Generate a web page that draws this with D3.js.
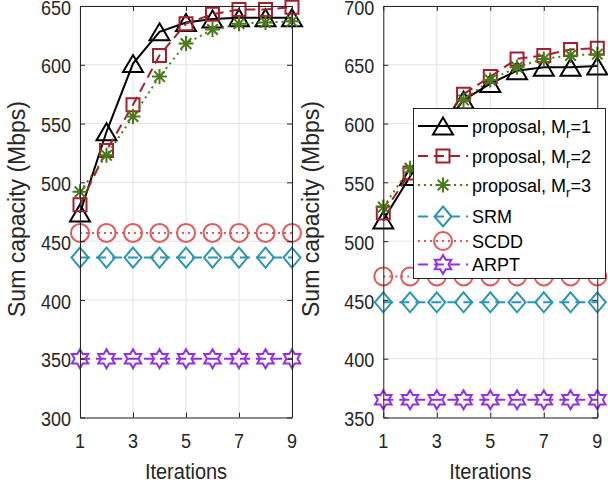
<!DOCTYPE html>
<html>
<head>
<meta charset="utf-8">
<script src="https://cdn.jsdelivr.net/npm/d3@7"></script>
<style>
  html, body { margin: 0; padding: 0; background: #fff; }
  svg { display: block; font-family: "Liberation Sans", Arial, Helvetica, sans-serif; }
</style>
</head>
<body>
<div id="chart"></div>
<script>
// Iteration index shared by both panels
const iterations = [1, 2, 3, 4, 5, 6, 7, 8, 9];
const xTicks = [1, 3, 5, 7, 9];

// Left panel: sum capacity (Mbps)
const leftMr1  = [474, 543, 601, 628, 636, 639, 640, 640, 640];
const leftMr2  = [481, 527, 566, 608, 635, 643, 647, 647, 649];
const leftMr3  = [492, 523, 556, 590, 618, 630, 635, 636, 637];
const leftSRM  = [436, 436, 436, 436, 436, 436, 436, 436, 436];
const leftSCDD = [457, 457, 457, 457, 457, 457, 457, 457, 457];
const leftARPT = [350, 350, 350, 350, 350, 350, 350, 350, 350];
const leftYTicks = [300, 350, 400, 450, 500, 550, 600, 650];

// Right panel: sum capacity (Mbps)
const rightMr1  = [518, 555, 590, 620, 634, 645, 648, 648, 649];
const rightMr2  = [524, 558, 595, 625, 640, 655, 658, 663, 664];
const rightMr3  = [529, 562, 597, 620, 637, 648, 655, 658, 659];
const rightSRM  = [448, 448, 448, 448, 448, 448, 448, 448, 448];
const rightSCDD = [470, 470, 470, 470, 470, 470, 470, 470, 470];
const rightARPT = [365, 365, 365, 365, 365, 365, 365, 365, 365];
const rightYTicks = [350, 400, 450, 500, 550, 600, 650, 700];

// Series styling (legend order)
const seriesNames = ["proposal, M|r|=1", "proposal, M|r|=2", "proposal, M|r|=3", "SRM", "SCDD", "ARPT"];
const seriesStyle = [
  { color: "#000000", dash: null,   marker: "triangle" },
  { color: "#A2212F", dash: "10,6", marker: "square" },
  { color: "#4B7A1A", dash: "2,4",  marker: "asterisk" },
  { color: "#2B95B5", dash: "10,6", marker: "diamond" },
  { color: "#E2595C", dash: "2,4",  marker: "circle" },
  { color: "#9330E6", dash: "10,6", marker: "hexagram" }
];

const W = 608, H = 486;
const svg = d3.select("#chart").append("svg").attr("width", W).attr("height", H);

const axisColor = "#262626";
const gridColor = "#e3e3e3";

function markerPath(type) {
  const p = d3.path();
  if (type === "triangle") {
    p.moveTo(0, -8.5); p.lineTo(10, 8.5); p.lineTo(-10, 8.5); p.closePath();
  } else if (type === "square") {
    p.rect(-6.5, -6.5, 13, 13);
  } else if (type === "diamond") {
    p.moveTo(0, -10); p.lineTo(8.5, 0); p.lineTo(0, 10); p.lineTo(-8.5, 0); p.closePath();
  } else if (type === "circle") {
    p.moveTo(9, 0); p.arc(0, 0, 9, 0, 2 * Math.PI);
  } else if (type === "asterisk") {
    const r = 7.5, d = r * Math.SQRT1_2;
    p.moveTo(-r, 0); p.lineTo(r, 0);
    p.moveTo(0, -r); p.lineTo(0, r);
    p.moveTo(-d, -d); p.lineTo(d, d);
    p.moveTo(-d, d); p.lineTo(d, -d);
  } else if (type === "hexagram") {
    const R = 9.5, r = R / Math.sqrt(3);
    for (let k = 0; k < 12; k++) {
      const a = -Math.PI / 2 + k * Math.PI / 6;
      const rad = k % 2 === 0 ? R : r;
      const x = rad * Math.cos(a), y = rad * Math.sin(a);
      if (k === 0) p.moveTo(x, y); else p.lineTo(x, y);
    }
    p.closePath();
  }
  return p.toString();
}

// Text helper with optional rotation and vertical stretch
function label(g, x, y, str, opts) {
  return g.append("text")
    .attr("transform", `translate(${x},${y}) ${opts.rotate ? "rotate(-90)" : ""} scale(1,${opts.sy || 1})`)
    .attr("font-size", opts.size)
    .attr("fill", opts.fill || axisColor)
    .attr("text-anchor", opts.anchor || "middle")
    .text(str);
}

function drawPanel(cfg) {
  const x = d3.scaleLinear().domain([1, 9]).range([cfg.x0, cfg.x1]);
  const y = d3.scaleLinear().domain(cfg.domain).range([417.5, 6]);
  const g = svg.append("g");

  // grid
  g.append("g").selectAll("line").data(xTicks).join("line")
    .attr("x1", d => x(d)).attr("x2", d => x(d)).attr("y1", y.range()[0]).attr("y2", y.range()[1])
    .attr("stroke", gridColor).attr("stroke-width", 1);
  g.append("g").selectAll("line").data(cfg.yTicks).join("line")
    .attr("y1", d => y(d)).attr("y2", d => y(d)).attr("x1", cfg.x0).attr("x2", cfg.x1)
    .attr("stroke", gridColor).attr("stroke-width", 1);

  // series
  const line = d3.line().x((d, i) => x(iterations[i])).y(d => y(d));
  cfg.series.forEach((vals, si) => {
    const st = seriesStyle[si];
    g.append("path").datum(vals)
      .attr("d", line).attr("fill", "none")
      .attr("stroke", st.color).attr("stroke-width", 2)
      .attr("stroke-dasharray", st.dash);
    g.append("g").selectAll("path").data(vals).join("path")
      .attr("transform", (d, i) => `translate(${x(iterations[i])},${y(d)})`)
      .attr("d", markerPath(st.marker))
      .attr("fill", "none").attr("stroke", st.color).attr("stroke-width", 2);
  });

  // axes (box with mirrored inward ticks)
  const bottom = d3.axisBottom(x).tickValues(xTicks).tickSizeInner(-5).tickSizeOuter(0);
  const top = d3.axisTop(x).tickValues(xTicks).tickSizeInner(-5).tickSizeOuter(0);
  const left = d3.axisLeft(y).tickValues(cfg.yTicks).tickSizeInner(-5).tickSizeOuter(0);
  const right = d3.axisRight(y).tickValues(cfg.yTicks).tickSizeInner(-5).tickSizeOuter(0);

  const style = sel => {
    sel.selectAll("path.domain").attr("stroke", axisColor).attr("stroke-width", 1);
    sel.selectAll(".tick line").attr("stroke", axisColor);
    sel.selectAll(".tick text").remove();
  };
  g.append("g").attr("transform", `translate(0,${y.range()[0]})`).call(bottom).call(style);
  g.append("g").attr("transform", `translate(0,${y.range()[1]})`).call(top).call(style);
  g.append("g").attr("transform", `translate(${cfg.x0},0)`).call(left).call(style);
  g.append("g").attr("transform", `translate(${cfg.x1},0)`).call(right).call(style);

  // tick labels
  xTicks.forEach(t => label(g, x(t), 448, String(t), { size: 18, sy: 1.12 }));
  cfg.yTicks.forEach(t => label(g, cfg.x0 - 9, y(t) + 8.6, String(t), { size: 18, sy: 1.12, anchor: "end" }));

  // axis titles
  label(g, (cfg.x0 + cfg.x1) / 2, 479, "Iterations", { size: 20, sy: 1.1 });
  label(g, cfg.ylabX, 209, "Sum capacity (Mbps)", { size: 23, rotate: true });
  return { x, y, g };
}

drawPanel({
  x0: 80, x1: 292, domain: [300, 650], yTicks: leftYTicks, ylabX: 25,
  series: [leftMr1, leftMr2, leftMr3, leftSRM, leftSCDD, leftARPT]
});
drawPanel({
  x0: 383.3, x1: 597.3, domain: [350, 700], yTicks: rightYTicks, ylabX: 318.5,
  series: [rightMr1, rightMr2, rightMr3, rightSRM, rightSCDD, rightARPT]
});

// Legend inside the right panel
const lg = svg.append("g");
lg.append("rect").attr("x", 413.5).attr("y", 108.5).attr("width", 192).attr("height", 170)
  .attr("fill", "#fff").attr("stroke", axisColor).attr("stroke-width", 1);
const rowY = [126, 156, 185, 216.5, 241, 264.5];
seriesNames.forEach((name, i) => {
  const st = seriesStyle[i];
  const yy = rowY[i];
  lg.append("line").attr("x1", 418).attr("x2", 468).attr("y1", yy).attr("y2", yy)
    .attr("stroke", st.color).attr("stroke-width", 2).attr("stroke-dasharray", st.dash);
  lg.append("path").attr("transform", `translate(443,${yy})`).attr("d", markerPath(st.marker))
    .attr("fill", "none").attr("stroke", st.color).attr("stroke-width", 2);
  const t = lg.append("text").attr("x", 472).attr("y", yy + 6.5)
    .attr("font-size", 18).attr("fill", "#000");
  const parts = name.split("|");
  t.append("tspan").text(parts[0]);
  if (parts.length > 1) {
    t.append("tspan").attr("font-size", 13).attr("dy", 5).text(parts[1]);
    t.append("tspan").attr("dy", -5).text(parts[2]);
  }
});
</script>
</body>
</html>
